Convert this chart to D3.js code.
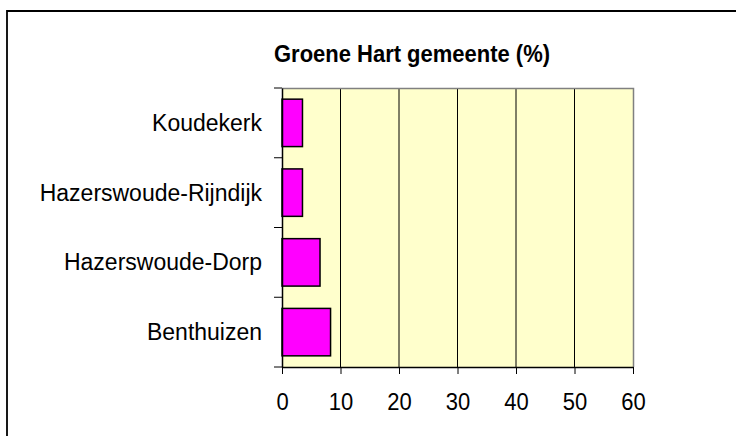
<!DOCTYPE html>
<html><head><meta charset="utf-8">
<script src="https://cdn.jsdelivr.net/npm/d3@7"></script>
<style>body{margin:0;background:#fff}svg{display:block}</style>
</head><body>
<svg id="c" width="736" height="436"></svg>
<script>
const title = "Groene Hart gemeente (%)";
const categories = ["Koudekerk", "Hazerswoude-Rijndijk", "Hazerswoude-Dorp", "Benthuizen"];
const values = [3.5, 3.5, 6.5, 8.3];
const xTicks = [0, 10, 20, 30, 40, 50, 60];

const svg = d3.select("#c");
const font = "'Liberation Sans', Arial, sans-serif";
const L = 282, R = 633, T = 88, B = 367;

// outer frame
svg.append("path").attr("d", `M7,436 V11 H736`).attr("fill", "none")
  .attr("stroke", "#000").attr("stroke-width", 1.8);

const x = d3.scaleLinear().domain([0, 60]).range([L, R]);
const y = d3.scaleBand().domain(categories).range([T, B]).paddingInner(0.32).paddingOuter(0.16);

// plot background
svg.append("rect").attr("x", L).attr("y", T).attr("width", R - L).attr("height", B - T).attr("fill", "#FFFFCC");
// gridlines
svg.append("g").selectAll("line").data(xTicks.filter(d => d > 0 && d < 60)).join("line")
  .attr("x1", d => x(d)).attr("x2", d => x(d)).attr("y1", T).attr("y2", B)
  .attr("stroke", "#000").attr("stroke-width", 1);
// top/right border
svg.append("path").attr("d", `M${L},${T + 0.5} H${R + 0.5} V${B}`).attr("fill", "none")
  .attr("stroke", "#808080").attr("stroke-width", 1.5);

// bars
svg.append("g").selectAll("rect").data(categories).join("rect")
  .attr("x", L).attr("y", d => y(d))
  .attr("width", (d, i) => x(values[i]) - L).attr("height", y.bandwidth())
  .attr("fill", "#FF00FF").attr("stroke", "#000").attr("stroke-width", 1.5);

// x axis
const xAxis = d3.axisBottom(x).tickValues(xTicks).tickSize(7).tickPadding(20).tickSizeOuter(0);
const gx = svg.append("g").attr("transform", `translate(0,${B})`).call(xAxis);
gx.select(".domain").attr("stroke", "#000").attr("stroke-width", 1.5);
gx.selectAll(".tick line").attr("stroke", "#000");
gx.selectAll(".tick text").attr("font-family", font).attr("font-size", 22).attr("fill", "#000")
  .attr("y", 0).attr("transform", "translate(0,26) scale(1,1.1)");

// y axis
const yStep = y.step();
const yAxis = d3.axisLeft(y).tickSize(0).tickPadding(20).tickSizeOuter(0);
const gy = svg.append("g").attr("transform", `translate(${L},0)`).call(yAxis);
gy.select(".domain").attr("stroke", "#000").attr("stroke-width", 1.5);
gy.selectAll(".tick text").attr("font-family", font).attr("font-size", 23).attr("fill", "#000")
  .attr("transform", "scale(1,1.08)");
// category separator ticks
const sepY = categories.slice(1).map(c => y(c) - y.paddingInner() * yStep / 2);
svg.append("g").selectAll("line").data([T, ...sepY, B]).join("line")
  .attr("x1", L - 8).attr("x2", L).attr("y1", d => d).attr("y2", d => d)
  .attr("stroke", "#000").attr("stroke-width", 1);

// title
svg.append("text").attr("transform", "translate(412,62) scale(1,1.08)").attr("text-anchor", "middle")
  .attr("font-family", font).attr("font-weight", "bold").attr("font-size", 22)
  .text(title);
</script>
</body></html>
